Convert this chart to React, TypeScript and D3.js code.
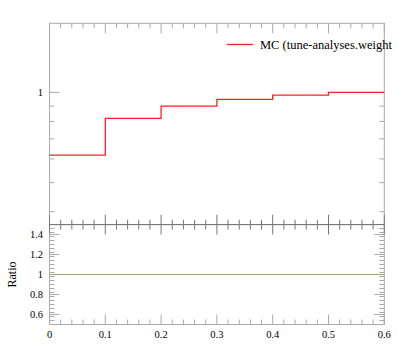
import React from "react";
import * as d3 from "d3";

const binEdges = [0, 0.1, 0.2, 0.3, 0.4, 0.5, 0.6];
const mcValues = [0.618, 0.819, 0.9, 0.948, 0.979, 1.0];
const ratioValues = [1, 1, 1, 1, 1, 1];
const xMajorTicks = [0, 0.1, 0.2, 0.3, 0.4, 0.5, 0.6];
const xTickLabels = ["0", "0.1", "0.2", "0.3", "0.4", "0.5", "0.6"];
const mainMajorTicks = [1];
const mainMinorTicks = [0.4, 0.5, 0.6, 0.7, 0.8, 0.9];
const ratioMajorTicks = [0.6, 0.8, 1.0, 1.2, 1.4];
const ratioTickLabels = ["0.6", "0.8", "1", "1.2", "1.4"];
const legendLabel = "MC (tune-analyses.weight";

const W = 397;
const H = 358;
const FONT = "'Liberation Serif', 'DejaVu Serif', serif";
const FRAME = "#aaaaaa";
const DARK = "#777777";

export default function App() {
  const x = d3.scaleLinear().domain([0, 0.6]).range([49.5, 384.3]);
  const yMain = d3.scaleLog().domain([0.362, 1.70]).range([224.7, 23.3]);
  const yRatio = d3.scaleLinear().domain([0.5, 1.5]).range([324.5, 224.5]);

  const xMinor = d3.range(0, 31).map((i) => i * 0.02).filter((v) => Math.abs(Math.round(v * 10) - v * 10) > 1e-6);
  const ratioMinor = d3.range(0, 26).map((i) => 0.5 + i * 0.04).filter(
    (v) => v > 0.5 && v < 1.5 && Math.abs(Math.round(v * 5) - v * 5) > 1e-6
  );

  const stepData = mcValues.map((v, i) => ({ x0: binEdges[i], x1: binEdges[i + 1], v }));
  const stepPath = (vals: number[], ys: (n: number) => number) => {
    const pts: [number, number][] = [];
    vals.forEach((v, i) => {
      pts.push([x(binEdges[i]), ys(v)]);
      pts.push([x(binEdges[i + 1]), ys(v)]);
    });
    return d3.line()(pts) || "";
  };

  const L = x(0), R = x(0.6);
  const mT = yMain.range()[1], mB = yMain.range()[0];
  const rT = yRatio(1.5), rB = yRatio(0.5);

  const xTicks = (y: number, dir: number, color: string, key: string) => (
    <g key={key}>
      {xMajorTicks.map((t, i) => (
        <line key={"M" + i} x1={x(t)} x2={x(t)} y1={y} y2={y + dir * 10} stroke={color} />
      ))}
      {xMinor.map((t, i) => (
        <line key={"m" + i} x1={x(t)} x2={x(t)} y1={y} y2={y + dir * 5} stroke={color} />
      ))}
    </g>
  );

  return (
    <svg width={W} height={H} style={{ position: "absolute", left: 0, top: 0, background: "#fff" }} fontFamily={FONT}>
      {/* main panel frame */}
      <rect x={L} y={mT} width={R - L} height={mB - mT} fill="none" stroke={FRAME} />
      {xTicks(mT, 1, FRAME, "mt")}
      {xTicks(mB, -1, DARK, "mb")}
      {mainMajorTicks.map((t, i) => (
        <g key={"mm" + i}>
          <line x1={L} x2={L + 10} y1={yMain(t)} y2={yMain(t)} stroke={FRAME} />
          <line x1={R} x2={R - 10} y1={yMain(t)} y2={yMain(t)} stroke={FRAME} />
          <text x={43} y={yMain(t) + 3.5} fontSize={10.5} textAnchor="end" fill="#000">{String(t)}</text>
        </g>
      ))}
      {mainMinorTicks.map((t, i) => (
        <g key={"mn" + i}>
          <line x1={L} x2={L + 5} y1={yMain(t)} y2={yMain(t)} stroke={FRAME} />
          <line x1={R} x2={R - 5} y1={yMain(t)} y2={yMain(t)} stroke={FRAME} />
        </g>
      ))}
      <path d={stepPath(stepData.map((d) => d.v), (v) => yMain(v))} fill="none" stroke="#ff2020" strokeWidth={1.3} />

      {/* legend */}
      <line x1={227} x2={253} y1={44.5} y2={44.5} stroke="#ff2020" strokeWidth={1.3} />
      <text x={260} y={48.5} fontSize={12.5} fill="#000">{legendLabel}</text>

      {/* ratio panel */}
      <line x1={L} x2={L} y1={rT} y2={rB} stroke={FRAME} />
      <line x1={R} x2={R} y1={rT} y2={rB} stroke={FRAME} />
      <line x1={L} x2={R} y1={rB} y2={rB} stroke={FRAME} />
      {xTicks(rT, 1, DARK, "rt")}
      {xTicks(rB, -1, FRAME, "rb")}
      {ratioMajorTicks.map((t, i) => (
        <g key={"rm" + i}>
          <line x1={L} x2={L + 10} y1={yRatio(t)} y2={yRatio(t)} stroke={FRAME} />
          <line x1={R} x2={R - 10} y1={yRatio(t)} y2={yRatio(t)} stroke={FRAME} />
          <text x={43} y={yRatio(t) + 3.5} fontSize={10.5} textAnchor="end" fill="#000">{ratioTickLabels[i]}</text>
        </g>
      ))}
      {ratioMinor.map((t, i) => (
        <g key={"rn" + i}>
          <line x1={L} x2={L + 5} y1={yRatio(t)} y2={yRatio(t)} stroke={FRAME} />
          <line x1={R} x2={R - 5} y1={yRatio(t)} y2={yRatio(t)} stroke={FRAME} />
        </g>
      ))}
      <path d={stepPath(ratioValues, (v) => yRatio(v))} fill="none" stroke="#a8a860" strokeWidth={1} />
      {/* shared boundary */}
      <line x1={L} x2={R} y1={rT} y2={rT} stroke={DARK} />

      {xMajorTicks.map((t, i) => (
        <text key={"xl" + i} x={x(t)} y={338} fontSize={10.5} textAnchor="middle" fill="#000">{xTickLabels[i]}</text>
      ))}
      <text transform={`translate(16,${yRatio(1)}) rotate(-90)`} fontSize={12} textAnchor="middle" fill="#000">Ratio</text>
    </svg>
  );
}
